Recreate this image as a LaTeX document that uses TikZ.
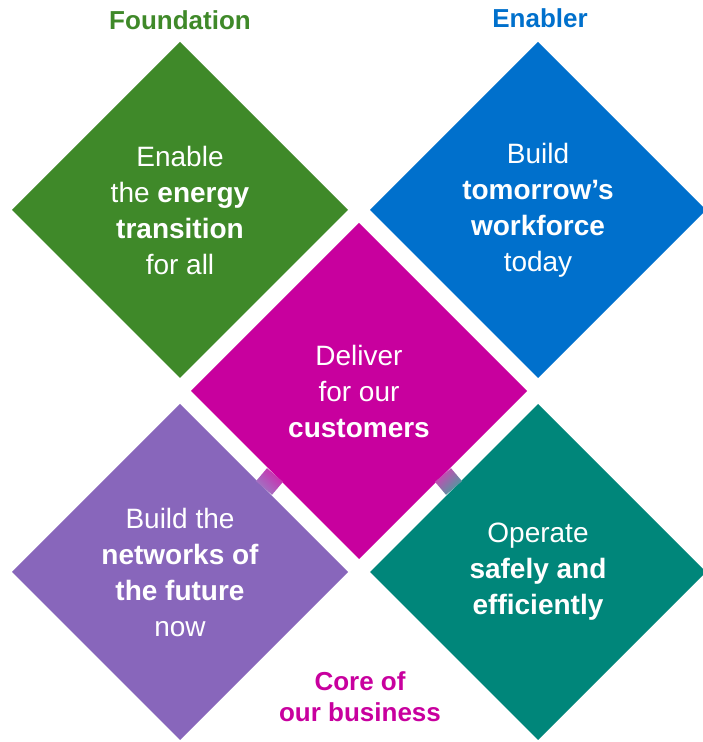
\documentclass[tikz,border=0pt]{standalone}
\usepackage{fontspec}
\setmainfont{Liberation Sans}
\usetikzlibrary{shapes.geometric,calc}
\definecolor{ngreen}{RGB}{63,137,41}
\definecolor{nblue}{RGB}{0,112,204}
\definecolor{nmagenta}{RGB}{200,0,158}
\definecolor{npurple}{RGB}{136,102,187}
\definecolor{nteal}{RGB}{0,134,122}
\begin{document}
\begin{tikzpicture}[
x=1pt,y=1pt,
tile/.style={diamond,aspect=1,minimum width=336pt,minimum height=336pt,
  inner sep=0pt,outer sep=0pt,text=white,align=center,
  font=\fontsize{28}{36}\selectfont},
head/.style={font=\fontsize{26}{31}\selectfont\bfseries,align=center},
]
\useasboundingbox (0,0) rectangle (702,742);
\node[tile,fill=ngreen] (energy) at (180,532)
  {Enable\\the \textbf{energy}\\\textbf{transition}\\for all};
\node[tile,fill=nblue] (workforce) at (538,532)
  {Build\\\textbf{tomorrow's}\\\textbf{workforce}\\today};
\node[tile,fill=nmagenta] (customers) at (359,351)
  {Deliver\\for our\\\textbf{customers}};
\node[tile,fill=npurple] (networks) at (180,170)
  {Build the\\\textbf{networks of}\\\textbf{the future}\\now};
\node[tile,fill=nteal] (safely) at (538,170)
  {Operate\\\textbf{safely and}\\\textbf{efficiently}};
% bridges
\shade[bottom color=npurple!85!white,top color=nmagenta!85!white,shading angle=-45]
  ($(networks.north east)!10.5pt!90:(customers.south west)$)
  -- ($(networks.north east)!10.5pt!-90:(customers.south west)$)
  -- ($(customers.south west)!10.5pt!90:(networks.north east)$)
  -- ($(customers.south west)!10.5pt!-90:(networks.north east)$) -- cycle;
\shade[bottom color=nteal!75!white,top color=nmagenta!75!white,shading angle=45]
  ($(safely.north west)!10.5pt!90:(customers.south east)$)
  -- ($(safely.north west)!10.5pt!-90:(customers.south east)$)
  -- ($(customers.south east)!10.5pt!90:(safely.north west)$)
  -- ($(customers.south east)!10.5pt!-90:(safely.north west)$) -- cycle;
% labels
\node[head,text=ngreen] (foundation) at (180,722) {Foundation};
\node[head,text=nblue] (enabler) at (540,724) {Enabler};
\node[head,text=nmagenta] (core) at (360,45) {Core of\\our business};
\end{tikzpicture}
\end{document}
